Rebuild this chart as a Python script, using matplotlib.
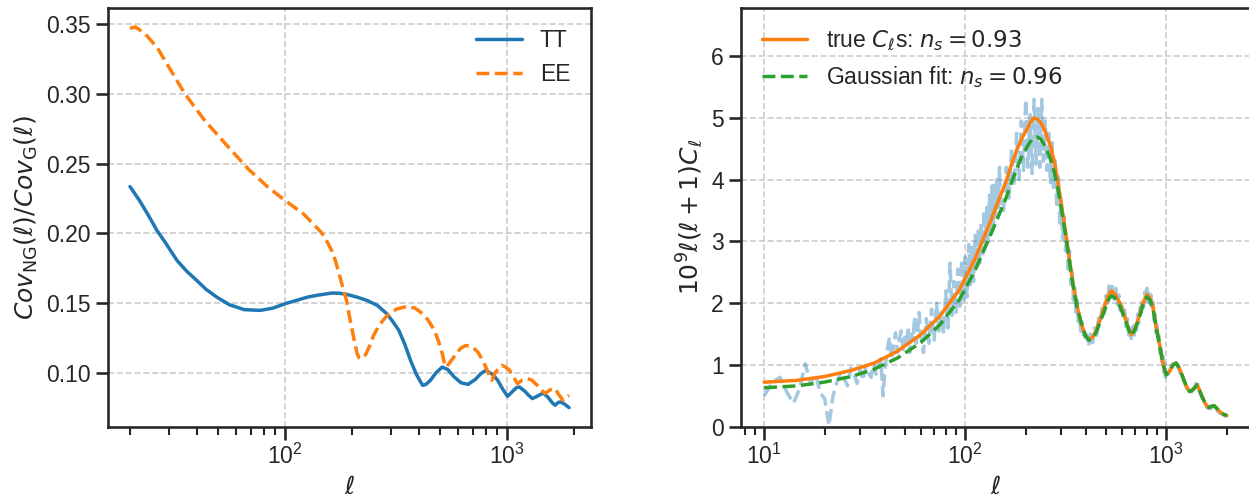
import matplotlib
matplotlib.use("Agg")
import matplotlib.pyplot as plt
import seaborn as sns

# --- left panel: non-Gaussian / Gaussian covariance ratio ---
ell_tt = [20, 22, 24, 26.5, 29, 32.6, 36, 40, 44, 49.2, 56, 65.5, 77.3, 88, 100, 112, 126,
          140, 162, 175, 190, 210, 234, 260, 287, 305, 325, 345, 367, 390, 416, 430, 451,
          480, 510, 540, 577, 620, 666, 720, 760, 801, 860, 906, 950, 1004, 1060, 1100,
          1136, 1200, 1250, 1300, 1370, 1452, 1520, 1590, 1643, 1700, 1747, 1820, 1900]
ratio_tt = [0.2336, 0.224, 0.214, 0.202, 0.193, 0.1806, 0.173, 0.1663, 0.160, 0.1544,
            0.149, 0.1454, 0.1449, 0.1465, 0.1497, 0.152, 0.1544, 0.1558, 0.1573, 0.1572,
            0.1563, 0.1545, 0.152, 0.1485, 0.1425, 0.137, 0.1306, 0.121, 0.1091, 0.099,
            0.0912, 0.0918, 0.0948, 0.1005, 0.1043, 0.1025, 0.0972, 0.093, 0.0919, 0.0955,
            0.0995, 0.1019, 0.099, 0.0948, 0.089, 0.0833, 0.087, 0.0895, 0.090, 0.087,
            0.084, 0.0817, 0.0835, 0.0857, 0.083, 0.079, 0.0769, 0.079, 0.0793, 0.0775,
            0.0752]

ell_ee = [20, 21.2, 23.5, 26.5, 30, 35.4, 43.5, 55.6, 68.2, 83.8, 100, 121, 143, 150, 162,
          168, 175, 182, 189, 194, 199, 205, 211, 215, 220, 230, 239, 250, 265, 280, 299,
          320, 353, 385, 416, 440, 470, 490, 510, 520, 531, 555, 589, 620, 653, 700, 738,
          770, 801, 830, 852, 890, 944, 980, 1025, 1060, 1112, 1170, 1233, 1290, 1366,
          1420, 1482, 1560, 1643, 1700, 1784, 1850, 1900]
ratio_ee = [0.3471, 0.348, 0.3428, 0.3333, 0.319, 0.2999, 0.2808, 0.2618, 0.2462, 0.2331,
            0.2236, 0.214, 0.2021, 0.198, 0.1878, 0.181, 0.1711, 0.161, 0.152, 0.142,
            0.133, 0.123, 0.1139, 0.111, 0.1103, 0.113, 0.1187, 0.127, 0.1341, 0.139,
            0.1437, 0.146, 0.1477, 0.1465, 0.1425, 0.138, 0.1306, 0.123, 0.1139, 0.108,
            0.1043, 0.108, 0.1139, 0.118, 0.1198, 0.1185, 0.115, 0.110, 0.1043, 0.0985,
            0.0948, 0.101, 0.1055, 0.1045, 0.102, 0.098, 0.0924, 0.095, 0.096, 0.095,
            0.0912, 0.088, 0.0853, 0.088, 0.0889, 0.085, 0.0805, 0.083, 0.084]

# --- right panel: power spectrum ---
ell_model = [10, 14.5, 19.8, 27, 35.2, 45.9, 60, 74.8, 93.6, 111.5, 133, 159, 170, 181.5,
             192, 203, 211, 219, 228, 237, 250, 265, 277, 289, 302, 316, 330, 345, 360,
             377, 395, 412, 430, 450, 470, 492, 510, 531, 555, 588, 608, 628, 650, 671,
             700, 733, 765, 801, 830, 856, 890, 935, 965, 1000, 1040, 1080, 1117, 1160,
             1221, 1260, 1305, 1360, 1426, 1490, 1558, 1590, 1629, 1680, 1726, 1790,
             1860, 1930, 2000]
cl_true = [0.72, 0.75, 0.81, 0.91, 1.03, 1.22, 1.49, 1.79, 2.22, 2.71, 3.31, 3.96, 4.25,
           4.50, 4.68, 4.82, 4.93, 5.00, 4.98, 4.93, 4.78, 4.55, 4.30, 3.96, 3.56, 3.14,
           2.70, 2.28, 1.95, 1.68, 1.48, 1.41, 1.45, 1.57, 1.75, 1.95, 2.10, 2.20, 2.15,
           2.00, 1.87, 1.73, 1.58, 1.49, 1.60, 1.79, 2.00, 2.14, 2.08, 1.95, 1.62, 1.25,
           1.00, 0.84, 0.90, 1.00, 1.03, 0.95, 0.76, 0.65, 0.57, 0.60, 0.68, 0.52, 0.38,
           0.34, 0.31, 0.33, 0.34, 0.29, 0.23, 0.20, 0.18]
cl_fit = [0.63, 0.66, 0.72, 0.81, 0.93, 1.11, 1.36, 1.65, 2.06, 2.52, 3.09, 3.69, 3.96,
          4.20, 4.39, 4.53, 4.62, 4.67, 4.69, 4.66, 4.54, 4.34, 4.12, 3.85, 3.48, 3.09,
          2.66, 2.25, 1.93, 1.68, 1.48, 1.40, 1.43, 1.54, 1.71, 1.87, 2.03, 2.12, 2.09,
          1.95, 1.83, 1.71, 1.57, 1.47, 1.58, 1.76, 1.97, 2.10, 2.05, 1.93, 1.61, 1.25,
          1.00, 0.84, 0.90, 1.00, 1.03, 0.95, 0.76, 0.65, 0.57, 0.60, 0.68, 0.52, 0.38,
          0.34, 0.31, 0.33, 0.34, 0.29, 0.23, 0.20, 0.18]

ell_obs = (list(range(10, 61))
           + list(range(62, 151, 2))
           + list(range(155, 401, 5))
           + list(range(410, 1001, 10))
           + list(range(1020, 2001, 20)))
cl_obs = [
    # 10 .. 60
    0.50, 0.72, 0.80, 0.55, 0.38, 0.62, 1.02, 0.70, 0.85, 0.55, 0.45, 0.02, 0.50, 0.72,
    0.88, 0.78, 0.66, 0.95, 0.85, 0.70, 0.92, 0.75, 0.98, 0.88, 0.80, 1.02, 0.85, 0.95,
    1.10, 0.50, 0.98, 1.25, 1.45, 1.10, 1.30, 1.52, 1.20, 1.40, 1.55, 1.25, 1.45, 1.30,
    1.62, 1.20, 1.50, 1.40, 1.78, 1.35, 1.55, 1.85, 1.48,
    # 62 .. 150
    1.20, 1.75, 1.35, 1.90, 1.40, 2.00, 1.55, 1.85, 1.50, 2.20, 1.60, 2.65, 1.80, 2.35,
    1.85, 2.55, 1.95, 2.70, 2.05, 2.75, 2.10, 2.95, 2.30, 2.90, 2.35, 3.10, 2.60, 3.20,
    2.65, 3.30, 2.80, 3.50, 2.95, 3.55, 3.00, 3.75, 3.15, 3.90, 3.30, 3.95, 3.40, 4.05,
    3.55, 4.20, 3.65,
    # 155 .. 400
    3.50, 4.20, 3.70, 4.50, 3.90, 4.75, 4.00, 4.95, 4.15, 5.30, 4.20, 5.05, 4.10, 5.30,
    4.25, 5.15, 4.20, 5.30, 4.30, 4.95, 4.15, 4.75, 3.95, 4.60, 3.85, 4.30, 3.60, 4.05,
    3.30, 3.70, 3.05, 3.40, 2.85, 3.05, 2.55, 2.85, 2.30, 2.50, 2.05, 2.25, 1.85, 2.05,
    1.70, 1.80, 1.55, 1.70, 1.45, 1.55, 1.38, 1.50,
    # 410 .. 1000
    1.30, 1.52, 1.36, 1.60, 1.48, 1.76, 1.66, 1.95, 1.84, 2.12, 2.00, 2.28, 2.10, 2.30,
    2.06, 2.24, 1.98, 2.13, 1.88, 2.02, 1.76, 1.89, 1.62, 1.75, 1.48, 1.63, 1.40, 1.62,
    1.46, 1.70, 1.56, 1.82, 1.68, 1.94, 1.81, 2.07, 1.93, 2.18, 2.02, 2.24, 2.02, 2.20,
    1.98, 2.13, 1.88, 2.01, 1.72, 1.82, 1.52, 1.64, 1.35, 1.47, 1.19, 1.32, 1.02, 1.14,
    0.88, 1.03, 0.80, 0.92,
    # 1020 .. 2000
    0.85, 0.92, 0.98, 1.02, 1.08, 1.02, 0.98, 0.90, 0.85, 0.80, 0.74, 0.70, 0.62, 0.60,
    0.55, 0.58, 0.56, 0.62, 0.64, 0.70, 0.66, 0.68, 0.58, 0.55, 0.48, 0.45, 0.40, 0.36,
    0.34, 0.30, 0.30, 0.29, 0.32, 0.30, 0.34, 0.33, 0.32, 0.30, 0.27, 0.25, 0.24, 0.22,
    0.23, 0.21, 0.20, 0.19, 0.18, 0.18, 0.17, 0.17,
]

BLUE, ORANGE, GREEN = "#1f77b4", "#ff7f0e", "#2ca02c"

sns.set_theme(context="talk", style="ticks")
plt.rcParams["font.family"] = ["Liberation Sans", "DejaVu Sans"]
plt.rcParams["mathtext.fontset"] = "dejavusans"

fig = plt.figure(figsize=(12.49, 4.97), dpi=100)
ax1 = fig.add_axes([0.0865, 0.1415, 0.3867, 0.8425])
ax2 = fig.add_axes([0.5933, 0.1415, 0.4075, 0.8425])

grid_kw = dict(color="#cccccc", linestyle="--", linewidth=1.2)

ax1.plot(ell_tt, ratio_tt, color=BLUE, lw=2.5, label="TT")
ax1.plot(ell_ee, ratio_ee, color=ORANGE, lw=2.5, ls="--", label="EE")
ax1.set_xscale("log")
ax1.set_xlabel(r"$\ell$")
ax1.set_ylabel(r"$Cov_{\mathrm{NG}}(\ell)/Cov_{\mathrm{G}}(\ell)$")
ax1.set_yticks([0.10, 0.15, 0.20, 0.25, 0.30, 0.35])
ax1.grid(True, **grid_kw)
ax1.legend(loc="upper right", frameon=False)

ax2.plot(ell_obs, cl_obs, color=BLUE, alpha=0.4, lw=2.5, ls="--")
ax2.plot(ell_model, cl_true, color=ORANGE, lw=2.5, label=r"true $C_\ell$s: $n_s = 0.93$")
ax2.plot(ell_model, cl_fit, color=GREEN, lw=2.5, ls="--",
         label=r"Gaussian fit: $n_s = 0.96$")
ax2.set_xscale("log")
ax2.set_ylim(0, 6.78)
ax2.set_xlabel(r"$\ell$")
ax2.set_ylabel(r"$10^9\ell(\ell+1)C_\ell$")
ax2.grid(True, **grid_kw)
ax2.legend(loc="upper left", frameon=False)

fig.savefig("out.png", dpi=100)
